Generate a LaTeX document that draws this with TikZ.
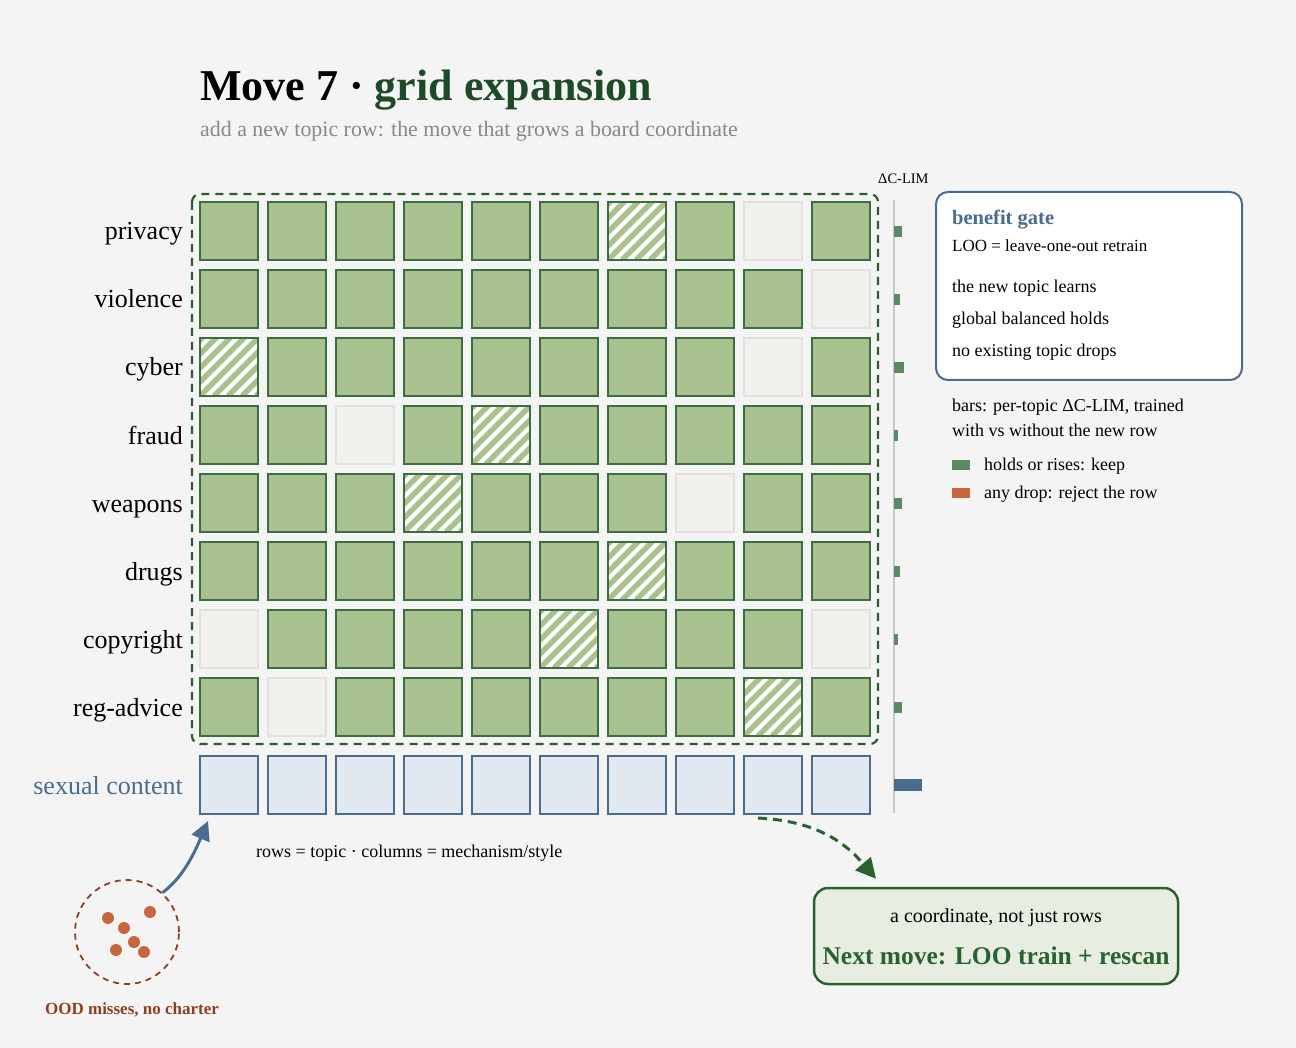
\documentclass[tikz,border=0pt]{standalone}
\usepackage{fontspec}
\setmainfont{Liberation Serif}
\usetikzlibrary{arrows.meta,positioning}

\definecolor{bggray}{HTML}{F4F4F4}
\definecolor{cellfill}{HTML}{A9C18F}
\definecolor{celledge}{HTML}{3D6E41}
\definecolor{emptyfill}{HTML}{F0F0EC}
\definecolor{emptyedge}{HTML}{E1E1DD}
\definecolor{newfill}{HTML}{E2E8F0}
\definecolor{newedge}{HTML}{4A6C8E}
\definecolor{framegreen}{HTML}{2A5E31}
\definecolor{bargreen}{HTML}{5A8A62}
\definecolor{titlegreen}{HTML}{1E4A28}
\definecolor{subgray}{HTML}{888888}
\definecolor{axisgray}{HTML}{C8C8C8}
\definecolor{dotorange}{HTML}{C8653F}
\definecolor{oodbrown}{HTML}{8E3F22}
\definecolor{nextfill}{HTML}{E8EDE2}
\definecolor{nextgreen}{HTML}{2A6130}

\newcommand\fsz[1]{\fontsize{#1}{#1}\selectfont}

\tikzset{
  cellg/.style={draw=celledge, fill=cellfill, line width=2pt,
    minimum size=58pt, inner sep=0pt},
  cellh/.style={cellg, fill=white, path picture={
    \foreach \k in {-70,-56,...,70}
      \draw[cellfill, line width=5.5pt]
        ([xshift=\k pt]path picture bounding box.south west) -- ++(75,-75);}},
  celle/.style={cellg, draw=emptyedge, fill=emptyfill},
  celln/.style={cellg, draw=newedge, fill=newfill},
  rowlab/.style={font=\fsz{26}, anchor=base east, inner sep=0pt},
  txt/.style={anchor=base west, inner sep=0pt},
}

\begin{document}
\begin{tikzpicture}[x=1pt, y=-1pt]

  \newcommand\DX{68}

  \useasboundingbox[fill=bggray] (0,0) rectangle (1296,1048);

  %% heading
  \node[txt, font=\fsz{44}\bfseries] (title) at (200,101)
    {Move 7 · \textcolor{titlegreen}{grid expansion}};
  \node[txt, font=\fsz{21.9}, text=subgray] (subtitle) at (200,137)
    {add a new topic row: the move that grows a board coordinate};

  %% board: g = covered, h = partial, e = empty
  \foreach \lab/\row [count=\r from 0] in {
      privacy/{g,g,g,g,g,g,h,g,e,g},
      violence/{g,g,g,g,g,g,g,g,g,e},
      cyber/{h,g,g,g,g,g,g,g,e,g},
      fraud/{g,g,e,g,h,g,g,g,g,g},
      weapons/{g,g,g,h,g,g,g,e,g,g},
      drugs/{g,g,g,g,g,g,h,g,g,g},
      copyright/{e,g,g,g,g,h,g,g,g,e},
      reg-advice/{g,e,g,g,g,g,g,g,h,g}}{
    \foreach \t [count=\c from 0] in \row
      \node[cell\t] (m-\r-\c) at (229+\c*\DX, 231+\r*\DX) {};
    \node[rowlab] (lab-\r) at (183, 240+\r*\DX) {\lab};
  }
  \draw[framegreen, line width=2.2pt, dash pattern=on 8pt off 6pt,
    rounded corners=8pt] (192,194) rectangle (878,744);

  %% the new row
  \foreach \c in {0,...,9}
    \node[celln] (n-\c) at (229+\c*\DX, 785) {};
  \node[rowlab, text=newedge] (lab-new) at (183,794) {sexual content};

  \node[txt, font=\fsz{18}] (axes) at (256,857)
    {rows = topic · columns = mechanism/style};

  %% delta bars
  \node[txt, font=\fsz{14.5}] (dlim) at (878,184) {ΔC-LIM};
  \draw[axisgray, line width=2pt] (894,200) -- (894,813);
  \foreach \w [count=\r from 0] in {8,6,10,4,8,6,4,8}
    \fill[bargreen] (894,226+\r*\DX) rectangle ++(\w,11);
  \fill[newedge] (894,779) rectangle ++(28,12);

  %% benefit gate
  \node[draw=newedge, line width=2pt, fill=white, rounded corners=12pt,
    minimum width=306pt, minimum height=188pt] (gate) at (1089,286) {};
  \node[txt, font=\fsz{20.5}\bfseries, text=newedge] (gatetitle) at (952,225) {benefit gate};
  \node[txt, font=\fsz{17}] (gateloo) at (952,252) {LOO = leave-one-out retrain};
  \node[txt, font=\fsz{18}] (gate1) at (952,293) {the new topic learns};
  \node[txt, font=\fsz{18}] (gate2) at (952,325) {global balanced holds};
  \node[txt, font=\fsz{18}] (gate3) at (952,357) {no existing topic drops};

  %% legend
  \node[txt, font=\fsz{18}] (leg1) at (952,412) {bars: per-topic ΔC-LIM, trained};
  \node[txt, font=\fsz{18}] (leg2) at (952,436) {with vs without the new row};
  \fill[bargreen] (952,460) rectangle ++(18,10);
  \node[txt, font=\fsz{18}] (keep) at (984,470) {holds or rises: keep};
  \fill[dotorange] (952,488) rectangle ++(18,10);
  \node[txt, font=\fsz{18}] (reject) at (984,498) {any drop: reject the row};

  %% out-of-distribution misses
  \node[circle, draw=oodbrown, line width=1.8pt, dash pattern=on 6pt off 5pt,
    minimum size=104pt] (ood) at (127,932) {};
  \foreach \p in {(108,918),(150,912),(124,928),(134,942),(116,950),(144,952)}
    \fill[dotorange] \p circle[radius=6pt];
  \node[font=\fsz{17}\bfseries, text=oodbrown, anchor=base] (oodlab) at (132,1014)
    {OOD misses, no charter};
  \draw[newedge, line width=3pt, -{Triangle[length=19pt,width=19pt]}]
    (ood.48) .. controls +(22,-16) and +(-12,28) .. ([xshift=-21pt,yshift=-6pt]n-0.south);

  %% next move
  \node[draw=nextgreen, fill=nextfill, line width=2.5pt, rounded corners=14pt,
    minimum width=364pt, minimum height=96pt] (next) at (996,936) {};
  \node[font=\fsz{20}, anchor=base] (nextsub) at (996,922) {a coordinate, not just rows};
  \node[font=\fsz{25.5}\bfseries, text=nextgreen, anchor=base] (nextlab) at (996,964)
    {Next move: LOO train + rescan};
  \draw[nextgreen, line width=3pt, dash pattern=on 9pt off 6pt,
    -{Triangle[length=20pt,width=20pt]}]
    ([xshift=-15pt,yshift=-3pt]n-8.south) .. controls +(60,3) and +(-30,-35)
    .. ([xshift=-120pt,yshift=8pt]next.north);

\end{tikzpicture}
\end{document}
